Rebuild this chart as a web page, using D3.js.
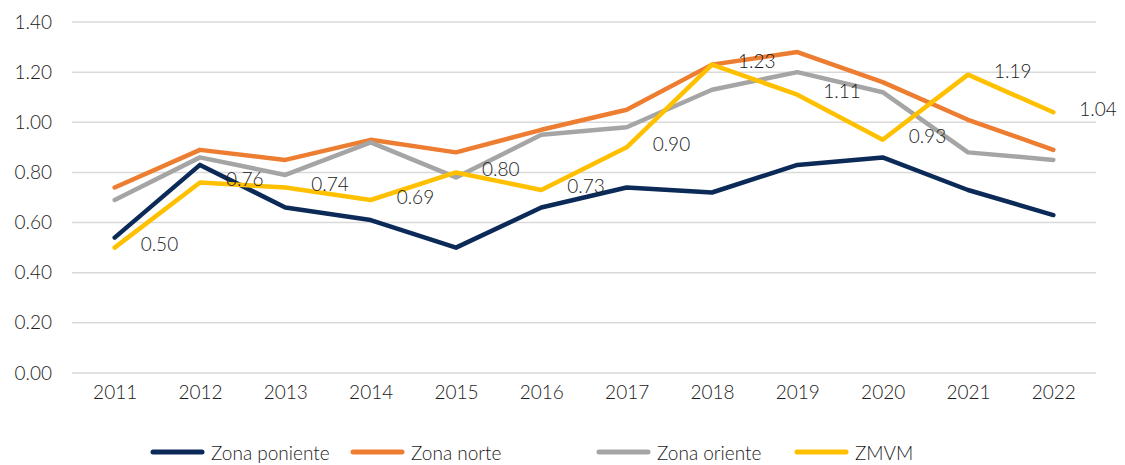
<!DOCTYPE html>
<html>
<head>
<meta charset="utf-8">
<script src="https://cdn.jsdelivr.net/npm/d3@7"></script>
<style>
  html, body { margin: 0; padding: 0; background: #fff; }
  svg { display: block; font-family: Lato, "Open Sans", sans-serif; font-weight: 300; }
</style>
</head>
<body>
<svg id="chart" width="1125" height="465"></svg>
<script>
const years = ["2011","2012","2013","2014","2015","2016","2017","2018","2019","2020","2021","2022"];
const poniente = [0.54, 0.83, 0.66, 0.61, 0.50, 0.66, 0.74, 0.72, 0.83, 0.86, 0.73, 0.63];
const norte    = [0.74, 0.89, 0.85, 0.93, 0.88, 0.97, 1.05, 1.23, 1.28, 1.16, 1.01, 0.89];
const oriente  = [0.69, 0.86, 0.79, 0.92, 0.78, 0.95, 0.98, 1.13, 1.20, 1.12, 0.88, 0.85];
const zmvm     = [0.50, 0.76, 0.74, 0.69, 0.80, 0.73, 0.90, 1.23, 1.11, 0.93, 1.19, 1.04];
const yTicks = [0, 0.2, 0.4, 0.6, 0.8, 1.0, 1.2, 1.4];
const seriesNames = ["Zona poniente", "Zona norte", "Zona oriente", "ZMVM"];
const seriesColors = ["#0c2a58", "#ed7d31", "#a5a5a5", "#ffc000"];

const series = [poniente, norte, oriente, zmvm].map((v, i) => ({name: seriesNames[i], color: seriesColors[i], values: v}));

const svg = d3.select("#chart");
const margin = {left: 72, right: 29, top: 22, bottom: 92};
const W = 1125, H = 465;

const x = d3.scalePoint().domain(years).range([margin.left, W - margin.right]).padding(0.5);
const y = d3.scaleLinear().domain([0, 1.4]).range([H - margin.bottom, margin.top]);

// gridlines
svg.append("g").selectAll("line").data(yTicks).join("line")
  .attr("x1", margin.left).attr("x2", W - margin.right)
  .attr("y1", d => y(d)).attr("y2", d => y(d))
  .attr("stroke", "#d9d9d9").attr("stroke-width", 1.5);

// y axis
const yAxis = svg.append("g").attr("transform", `translate(${margin.left - 20},0)`)
  .call(d3.axisLeft(y).tickValues(yTicks).tickFormat(d3.format(".2f")).tickSize(0).tickPadding(0));
yAxis.select(".domain").remove();
yAxis.selectAll("text").attr("font-size", 19).attr("fill", "#1a1a1a").attr("font-family", "Lato, sans-serif").attr("font-weight", 300);

// x axis
const xAxis = svg.append("g").attr("transform", `translate(0,${y(0)})`)
  .call(d3.axisBottom(x).tickSize(0).tickPadding(13));
xAxis.select(".domain").remove();
xAxis.selectAll("text").attr("font-size", 19).attr("fill", "#1a1a1a").attr("font-family", "Lato, sans-serif").attr("font-weight", 300);

// lines
const line = d3.line().x((d, i) => x(years[i])).y(d => y(d));
svg.append("g").selectAll("path").data(series).join("path")
  .attr("d", d => line(d.values))
  .attr("fill", "none")
  .attr("stroke", d => d.color)
  .attr("stroke-width", 4.5)
  .attr("stroke-linejoin", "round")
  .attr("stroke-linecap", "round");

// data labels for ZMVM
svg.append("g").selectAll("text").data(zmvm).join("text")
  .attr("x", (d, i) => x(years[i]) + 26)
  .attr("y", d => y(d) - 4)
  .attr("dominant-baseline", "central")
  .attr("font-size", 19)
  .attr("fill", "#1a1a1a")
  .text(d => d3.format(".2f")(d));

// legend
const legendX = [153, 353, 599, 797];
const lg = svg.append("g").attr("transform", `translate(0,452)`);
const items = lg.selectAll("g").data(series).join("g")
  .attr("transform", (d, i) => `translate(${legendX[i]},0)`);
items.append("line").attr("x1", 0).attr("x2", 49).attr("y1", 0).attr("y2", 0)
  .attr("stroke", d => d.color).attr("stroke-width", 5).attr("stroke-linecap", "round");
items.append("text").attr("x", 58).attr("y", 0).attr("dominant-baseline", "central")
  .attr("font-size", 19).attr("fill", "#1a1a1a").text(d => d.name);
</script>
</body>
</html>
